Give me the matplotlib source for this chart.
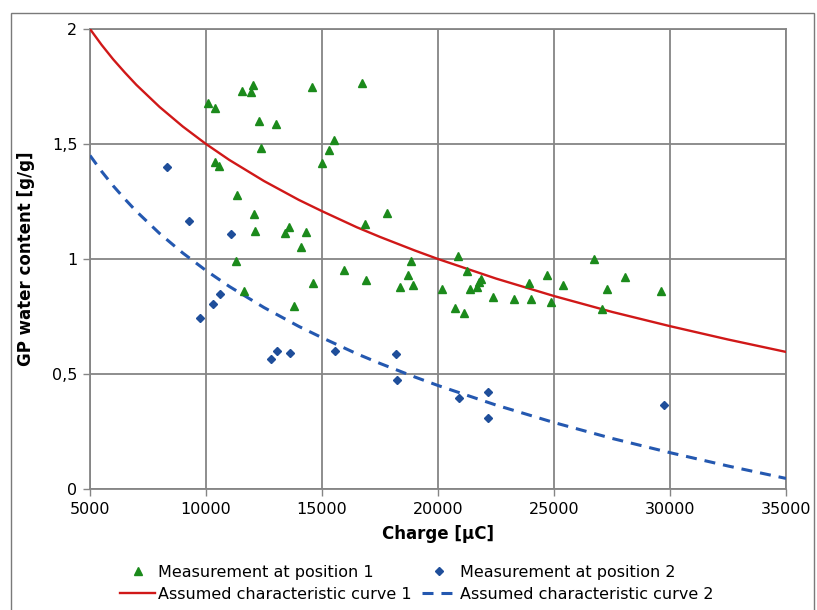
import matplotlib
matplotlib.use("Agg")
import matplotlib.pyplot as plt
from matplotlib.lines import Line2D
from matplotlib.patches import Rectangle
from matplotlib.ticker import FuncFormatter

# measurement at position 1 (green triangles)
pos1_charge = [10100, 10390, 11540, 11930, 12010, 14570, 12280, 13030, 15530, 15320,
               12370, 10390, 10550, 14990, 11340, 12080, 12130, 13580, 13400, 14310,
               14080, 11290, 16720, 17800, 16850, 18820, 20880, 15960, 11630, 14630,
               13780, 16900, 18720, 18380, 18940, 20170, 21240, 21380, 21660, 21750,
               21850, 20750, 21120, 22350, 23280, 24020, 23940, 24700, 24890, 25400,
               26720, 27300, 28050, 27060, 29630]
pos1_water = [1.680, 1.655, 1.732, 1.728, 1.757, 1.749, 1.601, 1.585, 1.517, 1.476,
              1.484, 1.421, 1.404, 1.416, 1.278, 1.194, 1.123, 1.141, 1.115, 1.116,
              1.052, 0.990, 1.767, 1.199, 1.151, 0.990, 1.014, 0.952, 0.859, 0.897,
              0.796, 0.909, 0.930, 0.880, 0.888, 0.868, 0.949, 0.868, 0.880, 0.900,
              0.912, 0.788, 0.764, 0.835, 0.825, 0.825, 0.894, 0.930, 0.813, 0.888,
              0.999, 0.871, 0.923, 0.783, 0.862]

# measurement at position 2 (blue diamonds)
pos2_charge = [8330, 9250, 11060, 9740, 10320, 10620, 12820, 13060, 13610, 15550,
               18180, 18250, 20890, 22150, 22150, 29740]
pos2_water = [1.401, 1.165, 1.107, 0.745, 0.806, 0.846, 0.565, 0.600, 0.590, 0.600,
              0.585, 0.472, 0.394, 0.422, 0.310, 0.365]

# assumed characteristic curves
curve_charge = [5000, 5500, 6000, 6500, 7000, 8000, 9000, 10000, 11000, 12500,
                14000, 15000, 16500, 17500, 19000, 20000, 22500, 25000, 27500,
                30000, 32500, 35000]
curve1_water = [2.000, 1.931, 1.868, 1.811, 1.757, 1.661, 1.576, 1.500, 1.431, 1.339,
                1.257, 1.208, 1.138, 1.096, 1.037, 1.000, 0.915, 0.839, 0.770,
                0.708, 0.650, 0.596]
curve2_water = [1.450, 1.381, 1.318, 1.261, 1.207, 1.111, 1.026, 0.950, 0.881, 0.789,
                0.707, 0.658, 0.588, 0.546, 0.487, 0.450, 0.365, 0.289, 0.220,
                0.158, 0.100, 0.046]

x_ticks = [5000, 10000, 15000, 20000, 25000, 30000, 35000]
y_ticks = [0, 0.5, 1, 1.5, 2]

GREEN = "#1b8a1b"
NAVY = "#1f4e9a"
RED = "#d01818"
DASH_BLUE = "#2458b0"
GRID = "#858585"

plt.rcParams["font.family"] = ["DejaVu Sans"]

fig = plt.figure(figsize=(8.17, 6.10), dpi=100)
ax = fig.add_axes([90 / 817, 1 - 489 / 610, (786 - 90) / 817, (489 - 29) / 610])

ax.plot(curve_charge, curve1_water, color=RED, linewidth=1.7, zorder=3)
ax.plot(curve_charge, curve2_water, color=DASH_BLUE, linewidth=2.2,
        dashes=(3.6, 2.6), zorder=3)
ax.plot(pos1_charge, pos1_water, linestyle="none", marker="^", markersize=6,
        color=GREEN, zorder=4)
ax.plot(pos2_charge, pos2_water, linestyle="none", marker="D", markersize=4.5,
        color=NAVY, zorder=4)

ax.set_xlim(5000, 35000)
ax.set_ylim(0, 2)
ax.set_xticks(x_ticks)
ax.set_yticks(y_ticks)
ax.yaxis.set_major_formatter(FuncFormatter(lambda v, p: f"{v:g}".replace(".", ",")))
ax.grid(True, color=GRID, linewidth=1.3)
ax.set_axisbelow(True)
for s in ax.spines.values():
    s.set_color(GRID)
    s.set_linewidth(1.3)
ax.tick_params(colors=GRID, length=5, width=1.0, labelsize=11.5, labelcolor="black",
               pad=4)

ax.set_xlabel("Charge [µC]", fontsize=12, fontweight="bold", labelpad=6)
ax.set_ylabel("GP water content [g/g]", fontsize=12, fontweight="bold", labelpad=12)

handles = [
    Line2D([], [], linestyle="none", marker="^", markersize=6, color=GREEN),
    Line2D([], [], color=RED, linewidth=1.7),
    Line2D([], [], linestyle="none", marker="D", markersize=4.5, color=NAVY),
    Line2D([], [], color=DASH_BLUE, linewidth=2.2, dashes=(3.6, 2.6)),
]
labels = ["Measurement at position 1", "Assumed characteristic curve 1",
          "Measurement at position 2", "Assumed characteristic curve 2"]
fig.legend(handles, labels, loc="center", bbox_to_anchor=(0.51, 0.044), ncol=2,
           frameon=False, fontsize=11.5, handlelength=2.2, handletextpad=0.2,
           columnspacing=0.6, labelspacing=0.45)

# chart area border
fig.add_artist(Rectangle((11 / 817, -0.01), (814 - 11) / 817, 1 - 13 / 610 + 0.01,
                         transform=fig.transFigure, fill=False,
                         edgecolor="#7a7a7a", linewidth=1.0))

fig.savefig("out.png", dpi=100)
